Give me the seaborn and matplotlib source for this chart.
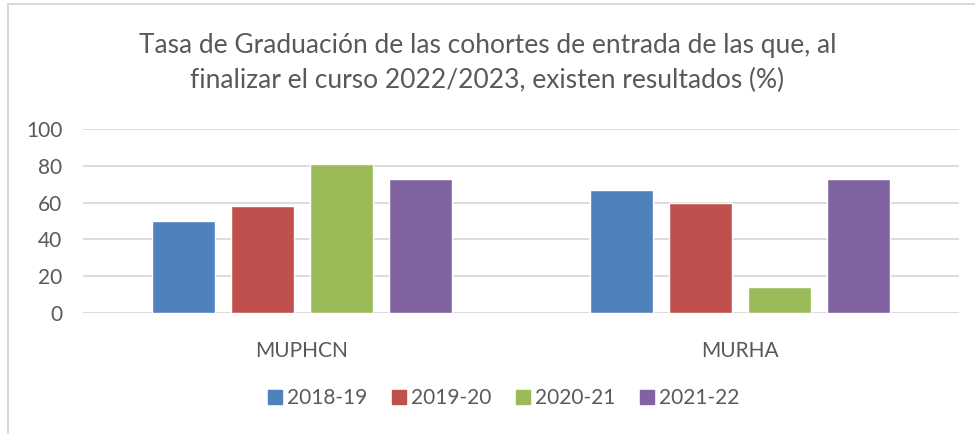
import matplotlib
matplotlib.use("Agg")
import matplotlib.pyplot as plt
import seaborn as sns
import pandas as pd
from matplotlib.lines import Line2D

# data
masters = ["MUPHCN", "MURHA"]
cohorts = ["2018-19", "2019-20", "2020-21", "2021-22"]
muphcn = [50.0, 58.0, 81.0, 72.7]
murha = [66.7, 60.0, 14.0, 72.7]
yticks = [0, 20, 40, 60, 80, 100]

colors = ["#4F81BD", "#C0504D", "#9BBB59", "#8064A2"]
text_col = "#595959"
grid_col = "#D9D9D9"

rows = []
for i, c in enumerate(cohorts):
    rows.append({"master": masters[0], "cohort": c, "value": muphcn[i]})
    rows.append({"master": masters[1], "cohort": c, "value": murha[i]})
df = pd.DataFrame(rows)

sns.set_theme(style="white")
plt.rcParams["font.family"] = ["Lato", "DejaVu Sans"]

fig = plt.figure(figsize=(9.75, 4.34), dpi=100)
ax = fig.add_axes([83 / 975, 1 - 313 / 434, 876 / 975, 184 / 434])

sns.barplot(data=df, x="master", y="value", hue="cohort", order=masters,
            hue_order=cohorts, palette=colors, width=0.72, gap=0.2,
            saturation=1, ax=ax, legend=False)

ax.set_xlim(-0.5, 1.5)
ax.set_ylim(0, 100)
ax.set_yticks(yticks)
ax.set_xlabel("")
ax.set_ylabel("")
for s in ax.spines.values():
    s.set_visible(False)
ax.yaxis.grid(True, color=grid_col, linewidth=1.3)
ax.set_axisbelow(True)
ax.tick_params(axis="both", length=0, colors=text_col, labelsize=15)
ax.tick_params(axis="y", pad=15)
ax.tick_params(axis="x", pad=20)

fig.text(0.5, 1 - 45 / 434, "Tasa de Graduación de las cohortes de entrada de las que, al",
         ha="center", va="center", fontsize=19, color=text_col)
fig.text(0.5, 1 - 80 / 434, "finalizar el curso 2022/2023, existen resultados (%)",
         ha="center", va="center", fontsize=19, color=text_col)

handles = [Line2D([], [], marker="s", linestyle="", markersize=10,
                  markerfacecolor=c, markeredgecolor=c) for c in colors]
fig.legend(handles, cohorts, loc="center", bbox_to_anchor=(502 / 975, 1 - 398 / 434),
           ncol=4, frameon=False, fontsize=15, labelcolor=text_col,
           handletextpad=0.1, columnspacing=1.0, handlelength=1.0)

# light frame on top and left, like the cropped chart border
fig.add_artist(Line2D([7.5 / 975, 7.5 / 975], [0, 1 - 4 / 434], color=grid_col,
                      linewidth=1.5, transform=fig.transFigure))
fig.add_artist(Line2D([7.5 / 975, 1], [1 - 4 / 434, 1 - 4 / 434], color=grid_col,
                      linewidth=1.5, transform=fig.transFigure))

fig.savefig("out.png", dpi=100)
